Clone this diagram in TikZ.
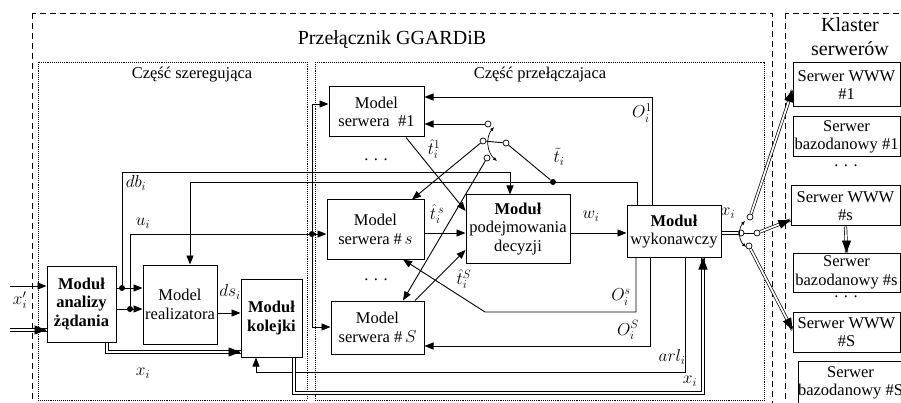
\documentclass[tikz,border=0pt]{standalone}
\usepackage{fontspec}
\setmainfont{Liberation Serif}
\usetikzlibrary{arrows.meta,calc}
\begin{document}
\begin{tikzpicture}[x=1pt,y=-1pt,line width=0.9pt,
  font=\fontsize{16.5}{18.5}\selectfont,
  blk/.style={draw,line width=1pt,fill=white,align=center,inner sep=0pt},
  bold/.style={font=\fontsize{16.5}{18.5}\selectfont\bfseries},
  lbl/.style={inner sep=0.5pt},
  arr/.style={-{Triangle[length=9pt,width=7pt]}},
  dbl/.style={double,double distance=1.8pt,line width=0.7pt},
  tip/.style={-{Triangle[length=12pt,width=9pt]}},
  swarr/.style={{Latex[length=4pt,width=3.5pt]}-{Latex[length=4pt,width=3.5pt]},line width=0.7pt},
  pin/.style={circle,draw,fill=white,inner sep=0pt,minimum size=6pt,line width=0.7pt},
  dot/.style={circle,fill,inner sep=0pt,minimum size=6pt}]
  \useasboundingbox (0,0) rectangle (901,403);
  \clip (0,0) rectangle (901,403);
  % ramki
  \draw[dash pattern=on 6pt off 4pt] (32,13) rectangle (772,430);
  \draw[dash pattern=on 6pt off 4pt] (785,13) rectangle (930,430);
  \draw[densely dotted] (38,62) rectangle (307,400);
  \draw[densely dotted] (315,62) rectangle (764,400);
  \node[font=\fontsize{20}{22}\selectfont] (tsw) at (392,40) {Przełącznik GGARDiB};
  \node (tsz) at (192,75) {Część szeregująca};
  \node (tpr) at (540,75) {Część przełączajaca};
  \node[align=center,font=\fontsize{20}{24}\selectfont] (tkl) at (850,37) {Klaster\\serwerów};
  % bloki
  \node[blk,bold,minimum width=69pt,minimum height=76pt] (analizy) at (81.5,304) {Moduł\\analizy\\żądania};
  \node[blk,minimum width=74pt,minimum height=79pt] (realizatora) at (180,304.5) {Model\\realizatora};
  \node[blk,bold,minimum width=61pt,minimum height=78pt] (kolejki) at (271.5,318) {Moduł\\kolejki};
  \node[blk,minimum width=95pt,minimum height=50pt] (serwer1) at (376.5,112) {Model\\serwera~~\#1};
  \node[blk,minimum width=97pt,minimum height=59pt] (serwers) at (375.5,229.5) {Model\\serwera \#\,$s$};
  \node[blk,minimum width=93pt,minimum height=53pt] (serwerS) at (377.5,327.5) {Model\\serwera \#\,$S$};
  \node[blk,minimum width=104pt,minimum height=68pt] (decyzji) at (518,229) {\textbf{Moduł}\\podejmowania\\decyzji};
  \node[blk,minimum width=94pt,minimum height=51pt] (wykonawczy) at (674,231.5) {\textbf{Moduł}\\wykonawczy};
  \node[blk,minimum width=107pt,minimum height=44pt] (www1) at (846.5,85) {Serwer WWW\\\#1};
  \node[blk,minimum width=107pt,minimum height=40pt] (baz1) at (846.5,137) {Serwer\\bazodanowy \#1};
  \node[blk,minimum width=109pt,minimum height=40pt] (wwws) at (845.5,206) {Serwer WWW\\\#s};
  \node[blk,minimum width=107pt,minimum height=39pt] (bazs) at (846.5,272.5) {Serwer\\bazodanowy \#s};
  \node[blk,minimum width=107pt,minimum height=40pt] (wwwS) at (846.5,332) {Serwer WWW\\\#S};
  \node[blk,minimum width=99pt,minimum height=43pt] (bazS) at (850.5,383) {Serwer\\bazodanowy \#S};
  \foreach \x/\y/\n in {376/160/da,376/280/db,846/166/dc,846/297/dd}
    \node (\n) at (\x,\y) {.\,\,.\,\,.};
  % punkty
  \coordinate (in1) at (10,286);
  \coordinate (in2) at (10,330);
  \node[dot] (dbdot) at (122,288) {};
  \node[dot] (udot) at (130,309) {};
  \node[dot] (sdot) at (312,234) {};
  \node[dot] (tdot) at (553,182) {};
  \node[pin] (p1) at (488,124) {};
  \node[pin] (p2) at (483,141) {};
  \node[pin] (pv) at (506,143) {};
  \node[pin] (p3) at (487,158) {};
  \node[pin] (q0) at (741,233) {};
  \node[pin] (q1) at (750,217) {};
  \node[pin] (q2) at (757,233) {};
  \node[pin] (q3) at (749,246) {};
  \coordinate (e1) at (www1.west |- 0,90);
  \coordinate (e2) at (wwws.west |- 0,220);
  \coordinate (e3) at (wwwS.west |- 0,330);
  \coordinate (e4) at (wykonawczy.south -| 703,0);
  \coordinate (e5) at (kolejki.west |- 0,352);
  \coordinate (e6) at (analizy.west |- in2);
  % czesc szeregujaca
  \draw[arr] (in1) -- (analizy.west |- in1);
  \draw[dbl] (in2) -- (e6); \draw[tip] ($(e6)!1pt!(in2)$) -- (e6);
  \draw[arr] (analizy.east |- dbdot) -- (realizatora.west |- dbdot);
  \draw[arr] (analizy.east |- udot) -- (realizatora.west |- udot);
  \draw[arr] (dbdot) |- (510,172) -- (decyzji.north -| 510,0);
  \draw[arr] (udot) |- (sdot) -- (serwers.west |- sdot);
  \draw[arr] (sdot) |- (serwer1.west |- 0,104);
  \draw[arr] (sdot) |- (serwerS.west |- 0,327);
  \draw[arr] (realizatora.east |- 0,313) -- (kolejki.west |- 0,313);
  \draw[dbl] (analizy.south -| 107,0) |- (e5); \draw[tip] ($(e5)+(-1,0)$) -- (e5);
  % czesc przelaczajaca
  \draw[arr] (wykonawczy.north -| 637,0) |- (190,182) -- (realizatora.north -| 190,0);
  \draw[arr] (wykonawczy.north -| 652,0) |- (serwer1.east |- 0,97);
  \draw[arr] (p1) -- (serwer1.east |- p1);
  \draw[arr] (p2) -- (serwers.north -| 412,0);
  \draw[arr] (p3) -- (serwerS.north -| 403,0);
  \draw (p2) -- (pv);
  \draw (pv) -- (tdot);
  \draw[swarr] (494,127) to[bend right=45] (497,161);
  \draw[arr] (serwer1.south -| 406,0) -- (decyzji.west |- 0,211);
  \draw[arr] (serwers.east |- 0,233) -- (decyzji.west |- 0,233);
  \draw[arr] (serwerS.north -| 415,0) -- (decyzji.west |- 0,250);
  \draw[arr] (decyzji.east |- 0,233) -- (wykonawczy.west |- 0,233);
  \draw[arr] (wykonawczy.south -| 636,0) |- (485,312) -- (serwers.south -| 403,0);
  \draw[arr] (wykonawczy.south -| 650,0) |- (serwerS.east |- 0,346);
  \draw[arr] (wykonawczy.south -| 685,0) |- (256,372) -- (kolejki.south -| 256,0);
  \draw[dbl] (kolejki.south -| 294,0) |- (703,393) -- (e4); \draw[tip] ($(e4)+(0,1)$) -- (e4);
  % wyjscie do klastra
  \draw[dbl] (wykonawczy.east |- q0) -- (q0);
  \draw (q0) -- (q2);
  \draw[swarr] (745,221) to[bend right=45] (746,247);
  \draw[dbl] (q1) -- (e1); \draw[tip] ($(e1)!1pt!(q1)$) -- (e1);
  \draw[dbl] (q2) -- (e2); \draw[tip] ($(e2)!1pt!(q2)$) -- (e2);
  \draw[dbl] (q3) -- (e3); \draw[tip] ($(e3)!1pt!(q3)$) -- (e3);
  \draw[dbl] (wwws.south) -- (bazs.north); \draw[tip] ($(bazs.north)+(0,-1)$) -- (bazs.north);
  % etykiety
  \node[lbl] (lxp) at (20,300) {$x'_i$};
  \node[lbl] (ldb) at (136,183) {$db_i$};
  \node[lbl] (lu) at (143,223) {$u_i$};
  \node[lbl] (lds) at (230,292) {$ds_i$};
  \node[lbl] (lx1) at (143,373) {$x_i$};
  \node[lbl] (lt1) at (434,149) {$\hat{t}_i^{1}$};
  \node[lbl] (lts) at (437,214) {$\hat{t}_i^{\,s}$};
  \node[lbl] (ltS) at (464,279) {$\hat{t}_i^{S}$};
  \node[lbl] (ltt) at (559,157) {$\tilde{t}_i$};
  \node[lbl] (lw) at (591,216) {$w_i$};
  \node[lbl] (lo1) at (642,113) {$O_i^1$};
  \node[lbl] (los) at (621,297) {$O_i^s$};
  \node[lbl] (loS) at (628,330) {$O_i^S$};
  \node[lbl] (larl) at (672,357) {$arl_i$};
  \node[lbl] (lx2) at (690,381) {$x_i$};
  \node[lbl] (lx3) at (728,213) {$x_i$};
\end{tikzpicture}
\end{document}
